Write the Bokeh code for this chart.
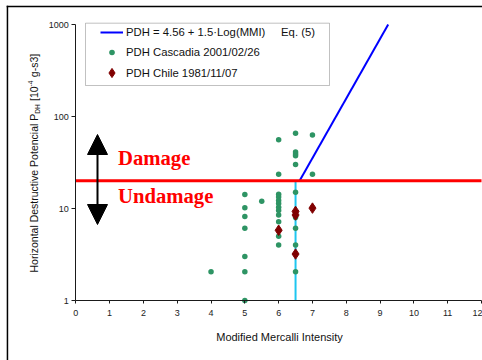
import math
from bokeh.plotting import figure
from bokeh.models import (Range1d, FixedTicker, Label, Arrow, NormalHead,
                          BoxAnnotation, Legend, LegendItem,
                          LinearAxis, LogAxis)
from bokeh.embed import file_html
from bokeh.resources import INLINE

# ---------------- data ----------------
x_ticks = list(range(0, 13))
x_tick_labels = [str(t) for t in x_ticks]
y_ticks = [1, 10, 100, 1000]
y_tick_labels = ["1", "10", "100", "1000"]

cascadia_mmi = [4, 5, 5, 5, 5, 5, 5, 5, 5.5,
                6, 6, 6, 6, 6, 6, 6, 6, 6, 6, 6, 6,
                6.5, 6.5, 6.5, 6.5, 6.5, 6.5, 6.5, 6.5, 6.5, 6.5, 7, 7]
cascadia_pdh = [2.05, 14.2, 10.2, 8.2, 6.1, 3.0, 2.05, 1.0, 12.0,
                56, 23.6, 14.3, 13.3, 12.2, 11.3, 10.3, 9.5, 8.5, 7.2, 5.0, 4.0,
                65.8, 41, 39, 37.4, 30, 15, 8.0, 6.1, 4.0, 2.05, 63, 23.6]
chile_mmi = [6, 6.5, 6.5, 6.5, 7]
chile_pdh = [5.8, 9.3, 8.5, 3.2, 10.1]
eq5_mmi = [6.62, 9.24]
eq5_pdh = [20, 1000]
damage_threshold_pdh = 20
threshold_mmi = 6.5
mmi_min, mmi_max = 0, 12
pdh_min, pdh_max = 1, 1000

NB = "\u00a0"
eq_label = "PDH = 4.56 + 1.5\u00b7Log(MMI)" + NB * 5 + "Eq. (5)"
cascadia_label = "PDH Cascadia 2001/02/26"
chile_label = "PDH Chile 1981/11/07"

# ---------------- layout constants (canvas pixels) ----------------
W, H = 482, 360
AX_L, AX_R = 75.3, 481.0      # pixel of x = 0 and x = 12
AX_B, AX_T = 300.0, 24.0      # pixel of y = 1 and y = 1000
px_x = (AX_R - AX_L) / (mmi_max - mmi_min)
px_dec = (AX_B - AX_T) / (math.log10(pdh_max) - math.log10(pdh_min))
x_start = mmi_min - AX_L / px_x
x_end = mmi_min + (W - AX_L) / px_x
y_start = 10 ** (math.log10(pdh_min) - (H - AX_B) / px_dec)
y_end = 10 ** (math.log10(pdh_min) + AX_B / px_dec)


def sy(py):
    """canvas pixel row -> screen units (from bottom of frame)"""
    return H - py


def frame_x(px):
    """canvas pixel column -> x coordinate of the (full-canvas) frame"""
    return x_start + px / px_x


def frame_y(py):
    """canvas pixel row -> y coordinate of the (full-canvas) log frame"""
    return 10 ** (math.log10(y_start) + (H - py) / px_dec)


p = figure(width=W, height=H, output_backend="svg", toolbar_location=None,
           title=None, x_range=Range1d(x_start, x_end),
           y_range=Range1d(y_start, y_end), y_axis_type="log",
           x_axis_location=None, y_axis_location=None, min_border=0)
p.outline_line_color = None
p.background_fill_color = "white"
p.border_fill_color = "white"
p.xgrid.visible = False
p.ygrid.visible = False

font = "Liberation Sans"
xaxis = LinearAxis(fixed_location=pdh_min, bounds=(mmi_min, mmi_max),
                   ticker=FixedTicker(ticks=x_ticks),
                   major_label_overrides=dict(zip(x_ticks, x_tick_labels)))
yaxis = LogAxis(fixed_location=mmi_min, bounds=(pdh_min, pdh_max),
                ticker=FixedTicker(ticks=y_ticks),
                major_label_overrides=dict(zip(y_ticks, y_tick_labels)))
for ax in (xaxis, yaxis):
    ax.axis_line_color = "#1a1a1a"
    ax.axis_line_width = 1
    ax.major_tick_line_color = "#1a1a1a"
    ax.minor_tick_line_color = None
    ax.major_tick_in = 0
    ax.major_label_text_font = font
    ax.major_label_text_font_size = "9px"
    ax.major_label_text_color = "#222222"
xaxis.major_tick_out = 3
xaxis.major_label_standoff = 6
yaxis.major_tick_out = 4
yaxis.major_label_standoff = 3
p.add_layout(xaxis, "below")
p.add_layout(yaxis, "left")

# outer chart border: left and top edges (the rest lies outside the window)
p.segment(x0=[frame_x(6.95), frame_x(6.2)], y0=[frame_y(5.25), frame_y(6.0)],
          x1=[frame_x(6.95), frame_x(W + 5)], y1=[frame_y(H + 5), frame_y(6.0)],
          line_color="black", line_width=1.5)

# legend box
p.add_layout(BoxAnnotation(left=85, right=329, top=sy(22.7), bottom=sy(85),
                           left_units="screen", right_units="screen",
                           top_units="screen", bottom_units="screen",
                           fill_color="white", fill_alpha=1,
                           line_color="#333333", line_width=1))

# lines
p.segment(x0=[threshold_mmi], y0=[pdh_min], x1=[threshold_mmi],
          y1=[damage_threshold_pdh], line_color="#1EC6F0", line_width=2)
eq_r = p.line(eq5_mmi, eq5_pdh, line_color="#0000FF", line_width=2)
p.segment(x0=[mmi_min], y0=[damage_threshold_pdh], x1=[mmi_max],
          y1=[damage_threshold_pdh], line_color="#FF0000", line_width=3)

# points
cas_r = p.scatter(cascadia_mmi, cascadia_pdh, marker="circle", size=5.5,
                  fill_color="#2E9464", line_color=None)
chi_r = p.scatter(chile_mmi, chile_pdh, marker="diamond", size=10.5,
                  fill_color="#800000", line_color="#800000", line_width=1)

common = dict(padding=0, margin=0, glyph_width=23, label_standoff=3,
              border_line_color=None, background_fill_alpha=0,
              label_text_font=font, label_text_font_size="11.3px",
              label_text_color="#111111")
legend_a = Legend(items=[LegendItem(label=eq_label, renderers=[eq_r]),
                         LegendItem(label=cascadia_label, renderers=[cas_r])],
                  location=(100, sy(59.3)), spacing=6, glyph_height=14,
                  label_height=14, **common)
legend_b = Legend(items=[LegendItem(label=chile_label, renderers=[chi_r])],
                  location=(100, sy(84.2)), spacing=0, glyph_height=23,
                  label_height=23, **common)
p.add_layout(legend_a)
p.add_layout(legend_b)

# text-baseline correction observed for Label (anchor sits ~0.31*fs above baseline)
BL = 0.31


def hlabel(text, x, base_py, fs, **kw):
    p.add_layout(Label(x=x, y=sy(base_py - BL * fs), x_units="screen",
                       y_units="screen", text=text, text_font_size=f"{fs}px",
                       text_baseline="alphabetic", **kw))


hlabel("Damage", 117.5, 164.3, 20.7, text_font="Liberation Serif",
       text_font_style="bold", text_color="#FF0000")
hlabel("Undamage", 117.5, 201.7, 20.7, text_font="Liberation Serif",
       text_font_style="bold", text_color="#FF0000")
hlabel("Modified Mercalli Intensity", 279, 340, 11, text_font=font,
       text_align="center", text_color="#111111")

# double arrow
p.add_layout(Arrow(start=NormalHead(size=20, fill_color="black", line_color="black"),
                   end=NormalHead(size=20, fill_color="black", line_color="black"),
                   x_start=97, y_start=sy(224), x_end=97, y_end=sy(134),
                   start_units="screen", end_units="screen",
                   line_color="black", line_width=2))

# y axis title pieces (rotated, reading bottom to top)
base_x = 37.0
big, small = 10.5, 6.5
pieces = [
    ("Horizontal Destructive Potencial P", big, 0, 15116),
    ("DH", small, 2, 1444),
    (NB + "[10", big, 0, 1668),
    ("-4", small, -5, 889),
    (NB + "g-s3]", big, 0, 2501),
]
ypos = 272.0
for txt, fs, shift, w in pieces:
    p.add_layout(Label(x=base_x + shift - BL * fs, y=sy(ypos), x_units="screen",
                       y_units="screen", text=txt, text_font=font,
                       text_font_size=f"{fs}px", angle=math.pi / 2,
                       text_align="left", text_baseline="alphabetic",
                       text_color="#111111"))
    ypos -= w * fs / 1000.0 + (0.5 if fs == small else 0)

open("out.html", "w").write(file_html(p, INLINE))
